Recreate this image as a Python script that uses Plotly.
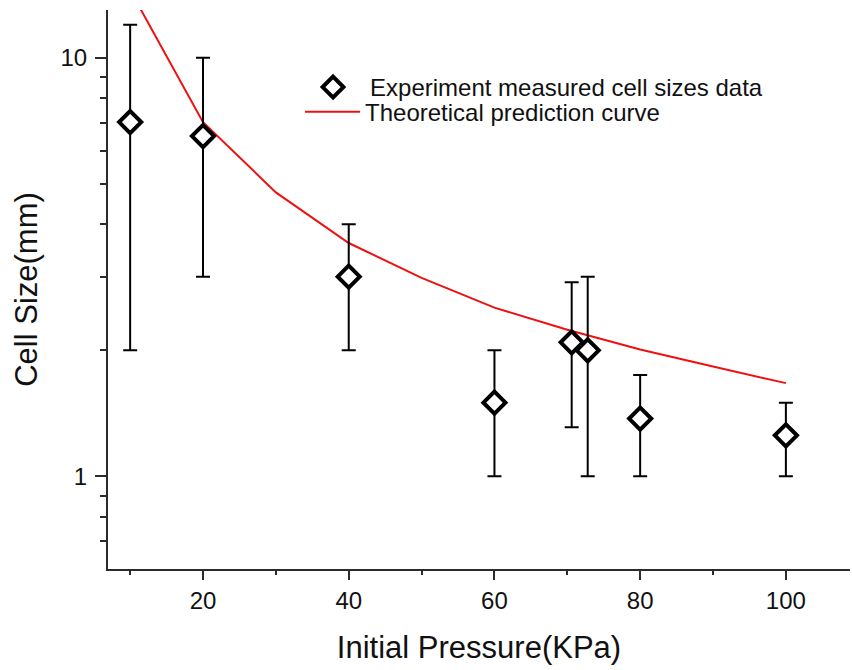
import plotly.graph_objects as go

# ---- data ----
pressure_exp = [10, 20, 40, 60, 70.6, 72.8, 80, 100]
cell_size_exp = [7.02, 6.5, 3.0, 1.5, 2.09, 2.0, 1.374, 1.253]
cell_size_upper = [12.0, 10.0, 4.0, 2.0, 2.91, 3.0, 1.747, 1.5]
cell_size_lower = [2.0, 3.0, 2.0, 1.0, 1.31, 1.0, 1.0, 1.0]

pressure_theory = [10, 20, 30, 40, 50, 60, 70, 80, 90, 100]
cell_size_theory = [14.5, 7.02, 4.77, 3.61, 2.98, 2.53, 2.24, 2.01, 1.83, 1.67]

x_ticks = [20, 40, 60, 80, 100]
y_ticks = [1, 10]
y_minor = [0.7, 0.8, 0.9, 2, 3, 4, 5, 6, 7, 8, 9]

err_plus = [u - v for u, v in zip(cell_size_upper, cell_size_exp)]
err_minus = [v - l for v, l in zip(cell_size_exp, cell_size_lower)]

FONT = "Arial, Liberation Sans, sans-serif"
AX = "#2b2b2b"
TXT = "#111111"

fig = go.Figure()
fig.add_trace(go.Scatter(
    x=pressure_theory, y=cell_size_theory, mode="lines",
    name="Theoretical prediction curve",
    line=dict(color="#ee1111", width=2),
    legend="legend2",
))
fig.add_trace(go.Scatter(
    x=pressure_exp, y=cell_size_exp, mode="markers",
    name="Experiment measured cell sizes data",
    marker=dict(symbol="diamond", size=17, color="white",
                line=dict(color="black", width=4)),
    error_y=dict(type="data", symmetric=False, array=err_plus,
                 arrayminus=err_minus, color="black", thickness=2, width=7),
    legend="legend",
))

fig.update_layout(
    width=852, height=670,
    margin=dict(l=108, r=2, t=10, b=101),
    paper_bgcolor="white", plot_bgcolor="white",
    font=dict(family=FONT, color=TXT, size=24),
    showlegend=True,
    legend=dict(x=0.2534, y=0.8614, xanchor="left", yanchor="middle",
                bgcolor="rgba(0,0,0,0)", itemwidth=64,
                font=dict(family=FONT, size=24, color=TXT)),
    legend2=dict(x=0.2588, y=0.8172, xanchor="left", yanchor="middle",
                 bgcolor="rgba(0,0,0,0)", itemwidth=55,
                 font=dict(family=FONT, size=24, color=TXT)),
)

fig.update_xaxes(
    range=[6.96, 108.8], showgrid=False, zeroline=False,
    showline=True, linecolor=AX, linewidth=2,
    tickmode="array", tickvals=x_ticks,
    ticks="outside", ticklen=9, tickwidth=2, tickcolor=AX,
    tickfont=dict(family=FONT, size=24, color=TXT),
    minor=dict(tickmode="linear", tick0=0, dtick=10, ticks="outside",
               ticklen=4, tickwidth=2, tickcolor=AX, showgrid=False),
    title=dict(text="Initial Pressure(KPa)",
               font=dict(family=FONT, size=31, color=TXT), standoff=24),
)
fig.update_yaxes(
    type="log", range=[-0.2213, 1.1142], showgrid=False, zeroline=False,
    showline=True, linecolor=AX, linewidth=2,
    tickmode="array", tickvals=y_ticks, ticktext=[str(v) for v in y_ticks],
    ticks="outside", ticklen=11, tickwidth=2, tickcolor=AX,
    ticklabelstandoff=3,
    tickfont=dict(family=FONT, size=24, color=TXT),
    minor=dict(tickmode="array", tickvals=y_minor, ticks="outside",
               ticklen=6, tickwidth=2, tickcolor=AX, showgrid=False),
    title=dict(text="Cell Size(mm)",
               font=dict(family=FONT, size=31, color=TXT), standoff=14),
)

fig.write_html("out.html")
